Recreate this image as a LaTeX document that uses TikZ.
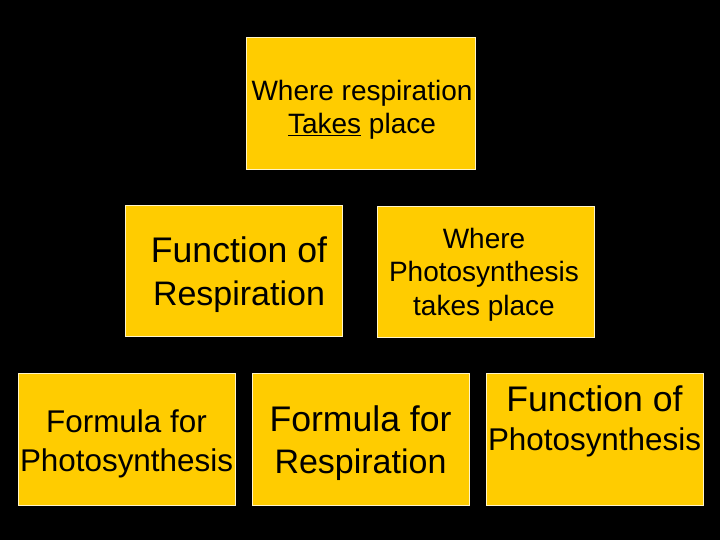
\documentclass[tikz,border=0pt]{standalone}
\usepackage{fontspec}
\setmainfont{Liberation Sans}
\usepackage{xcolor}

\definecolor{boxyellow}{HTML}{FFCC00}
\definecolor{boxedge}{HTML}{FFF4C8}

\newcommand{\sizemid}{\fontsize{28pt}{33.5pt}\selectfont}
\newcommand{\sizeform}{\fontsize{31.4pt}{39pt}\selectfont}
\newcommand{\sizeresp}{\fontsize{34pt}{42.5pt}\selectfont}
\newcommand{\sizebig}{\fontsize{35.6pt}{42.5pt}\selectfont}

\tikzset{
  box/.style={rectangle, fill=boxyellow, draw=boxedge, line width=0.8pt,
    minimum width=217pt, minimum height=132pt, inner sep=0pt},
  boxtext/.style={align=center, text=black, inner sep=0pt},
}

\begin{document}
\begin{tikzpicture}[x=1pt,y=-1pt]
\fill[black] (0,0) rectangle (720,540);
\useasboundingbox (0,0) rectangle (720,540);

% boxes
\node (rwhere) [box, minimum width=229pt] at (360.5,103) {};
\node (rfunc) [box, minimum height=131pt] at (234,270.5) {};
\node (pwhere) [box, minimum height=131pt] at (486,271.5) {};
\node (pform) [box] at (126.5,439) {};
\node (rform) [box] at (360.5,439) {};
\node (pfunc) [box] at (594.5,439) {};

% texts
\node (rwheretext) [boxtext, font=\sizemid] at ([xshift=1.5pt,yshift=-7pt]rwhere.center) {Where respiration\\\underline{Takes} place};
\node (rfunctext) [boxtext, font=\sizeresp] at ([xshift=5pt,yshift=-4pt]rfunc.center) {{\sizebig Function of}\\Respiration};
\node (pwheretext) [boxtext, font=\sizemid] at ([xshift=-2pt,yshift=-3pt]pwhere.center) {Where\\Photosynthesis\\takes place};
\node (pformtext) [boxtext, font=\sizeform] at ([yshift=-4.5pt]pform.center) {Formula for\\Photosynthesis};
\node (rformtext) [boxtext, font=\sizeresp] at ([yshift=-4pt]rform.center) {{\sizebig Formula for}\\Respiration};
\node (pfunctext) [boxtext, font=\sizeform] at ([yshift=18pt]pfunc.center) {{\sizebig Function of}\\Photosynthesis};
\end{tikzpicture}
\end{document}
